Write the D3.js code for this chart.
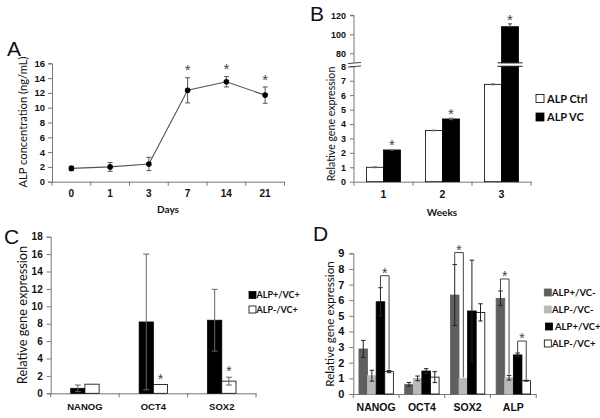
<!DOCTYPE html>
<html><head><meta charset="utf-8">
<script src="https://cdn.jsdelivr.net/npm/d3@7"></script>
<style>
body{margin:0;background:#fff;}
svg{display:block;font-family:Lato,"Open Sans",sans-serif;}
.tick text{font-weight:bold;fill:#111;}
</style></head>
<body><svg id="c" width="600" height="418"></svg>
<script>
// ---- Panel A data ----
const daysCats = ["0","1","3","7","14","21"];
const alpConc = [1.8, 2.0, 2.4, 12.35, 13.5, 11.7];
const alpConcErr = [0.3, 0.6, 0.9, 1.7, 0.7, 1.1];
const alpSig = [false,false,false,true,true,true];
const aTicks = [0,2,4,6,8,10,12,14,16];

// ---- Panel B data ----
const weekCats = ["1","2","3"];
const bSeries = ["ALP Ctrl","ALP VC"];
const alpCtrl = [1.0, 3.55, 6.75];
const alpCtrlErr = [0.03, 0.02, 0.03];
const alpVC = [2.2, 4.35, 108];
const alpVCErr = [0.02, 0.05, 3];
const bSig = [true,true,true];
const bLowTicks = [0,1,2,3,4,5,6,7,8];
const bHighTicks = [80,100,120];

// ---- Panel C data ----
const cGenes = ["NANOG","OCT4","SOX2"];
const cSeries = ["ALP+/VC+","ALP-/VC+"];
const cPos = [0.57, 8.2, 8.4];
const cPosErr = [0.38, 7.8, 3.55];
const cNeg = [1.05, 1.02, 1.4];
const cNegErr = [0, 0, 0.45];
const cSig = [false,true,true];
const cTicks = [0,2,4,6,8,10,12,14,16,18];

// ---- Panel D data ----
const dGenes = ["NANOG","OCT4","SOX2","ALP"];
const dSeries = ["ALP+/VC-","ALP-/VC-","ALP+/VC+","ALP-/VC+"];
const dVals = [
  [2.88, 0.62, 6.33, 6.12],
  [1.17, 1.0, 1.0, 1.04],
  [5.9, 1.47, 5.31, 2.5],
  [1.43, 1.08, 5.22, 0.85]
];
const dErrs = [
  [0.55, 0.12, 1.95, 0.47],
  [0.35, 0.15, 0, 0.15],
  [0.9, 0.15, 3.25, 0.12],
  [0.07, 0.35, 0.55, 0.03]
];
const dBrackets = [ // [gene index, left series, right series]
  [0,2,3],[2,0,1],[3,0,1],[3,2,3]
];
const dTicks = [0,1,2,3,4,5,6,7,8,9];

const svg = d3.select("#c");
const AX = "#777";

function styleAxis(g, fs){
  g.select(".domain").attr("stroke", AX);
  g.selectAll(".tick line").attr("stroke", AX);
  g.selectAll(".tick text").attr("font-size", fs);
}
function bandTicks(g, x, y0){
  const d = x.domain();
  const edges = d.map(c=>x(c)).concat([x(d[d.length-1])+x.bandwidth()]);
  g.selectAll("line.bt").data(edges).join("line").attr("class","bt")
    .attr("x1",e=>e).attr("x2",e=>e).attr("y1",y0).attr("y2",y0+4).attr("stroke",AX);
}
function errBar(g, cx, yTop, yBot, w, col){
  g.append("line").attr("x1",cx).attr("x2",cx).attr("y1",yTop).attr("y2",yBot).attr("stroke",col);
  g.append("line").attr("x1",cx-w/2).attr("x2",cx+w/2).attr("y1",yTop).attr("y2",yTop).attr("stroke",col);
  g.append("line").attr("x1",cx-w/2).attr("x2",cx+w/2).attr("y1",yBot).attr("y2",yBot).attr("stroke",col);
}
function star(g, cx, cy, fs){
  g.append("text").attr("x",cx).attr("y",cy+fs*0.58).attr("text-anchor","middle")
   .attr("font-family","'Liberation Sans',Arial,sans-serif")
   .attr("font-size",fs).attr("fill","#444").text("*");
}
function letter(t, x, y){
  svg.append("text").attr("x",x).attr("y",y).attr("font-size",21).attr("fill","#111")
    .attr("font-family","'Liberation Sans',Arial,sans-serif").text(t);
}

// ================= Panel A =================
{
  const g = svg.append("g");
  const x = d3.scaleBand().domain(daysCats).range([52,284.5]);
  const y = d3.scaleLinear().domain([0,16]).range([181.7,63.3]);
  const gy = g.append("g").attr("transform","translate(52,0)")
    .call(d3.axisLeft(y).tickValues(aTicks).tickSize(4).tickPadding(3));
  styleAxis(gy, 9.5);
  const gx = g.append("g").attr("transform","translate(0,181.7)")
    .call(d3.axisBottom(x).tickSize(0).tickPadding(8));
  styleAxis(gx, 10);
  bandTicks(g, x, 181.7);
  const cx = c=>x(c)+x.bandwidth()/2;
  g.append("path").datum(daysCats).attr("fill","none").attr("stroke","#555").attr("stroke-width",1.1)
    .attr("d", d3.line().x(c=>cx(c)).y((c,i)=>y(alpConc[i])));
  daysCats.forEach((c,i)=>{
    errBar(g, cx(c), y(alpConc[i]+alpConcErr[i]), y(alpConc[i]-alpConcErr[i]), 5, "#555");
  });
  g.selectAll("circle").data(daysCats).join("circle")
    .attr("cx",c=>cx(c)).attr("cy",(c,i)=>y(alpConc[i])).attr("r",2.8).attr("fill","#000");
  daysCats.forEach((c,i)=>{ if(alpSig[i]) star(g, cx(c), y(alpConc[i]+alpConcErr[i])-11, 15); });
  g.append("text").attr("transform","translate(27,122) rotate(-90)").attr("text-anchor","middle")
    .attr("font-size",11.2).attr("fill","#111").text("ALP concentration (ng/mL)");
  g.append("text").attr("x",168).attr("y",213).attr("text-anchor","middle")
    .attr("font-size",10).attr("font-weight","bold").attr("fill","#111").text("Days");
  letter("A", 7, 56);
}

// ================= Panel B =================
{
  const g = svg.append("g");
  const x = d3.scaleBand().domain(weekCats).range([354,531]);
  const yL = d3.scaleLinear().domain([0,8]).range([181.7,66.3]);
  const yH = d3.scaleLinear().domain([70,120]).range([62.8,15.3]);
  const gyl = g.append("g").attr("transform","translate(354,0)")
    .call(d3.axisLeft(yL).tickValues(bLowTicks).tickSize(4).tickPadding(4));
  styleAxis(gyl, 9);
  const gyh = g.append("g").attr("transform","translate(354,0)")
    .call(d3.axisLeft(yH).tickValues(bHighTicks).tickSize(4).tickPadding(4));
  styleAxis(gyh, 9);
  gyh.select(".domain").attr("d", `M-4,${yH(120)}H0V${yH(70)}`);
  gyl.select(".domain").attr("d", `M0,${yL(8)}V${yL(0)}`);
  const gx = g.append("g").attr("transform","translate(0,181.7)")
    .call(d3.axisBottom(x).tickSize(0).tickPadding(9));
  styleAxis(gx, 10.5);
  bandTicks(g, x, 181.7);
  // axis break marks
  [yH(70)+0.2, yL(8)+0.2].forEach(yy=>{
    g.append("line").attr("x1",348).attr("x2",361).attr("y1",yy+0.6).attr("y2",yy-0.6).attr("stroke","#444");
  });
  const bw = 17;
  const c0 = c=>x(c)+x.bandwidth()/2;
  const broken = v => v>8;
  [[alpCtrl,alpCtrlErr,"#fff",-1],[alpVC,alpVCErr,"#000",0]].forEach(([vals,errs,fill,off])=>{
    weekCats.forEach((c,i)=>{
      const bx = c0(c)+off*bw;
      const v = vals[i];
      if(!broken(v)){
        g.append("rect").attr("x",bx).attr("width",bw).attr("y",yL(v)).attr("height",yL(0)-yL(v))
          .attr("fill",fill).attr("stroke","#000").attr("stroke-width",0.8);
        errBar(g, bx+bw/2, yL(v+errs[i]), yL(v-errs[i]), 4, "#666");
      } else {
        g.append("rect").attr("x",bx).attr("width",bw).attr("y",yL(8)).attr("height",yL(0)-yL(8))
          .attr("fill",fill).attr("stroke","#000").attr("stroke-width",0.8);
        g.append("rect").attr("x",bx).attr("width",bw).attr("y",yH(v)).attr("height",yH(70)-yH(v))
          .attr("fill",fill).attr("stroke","#000").attr("stroke-width",0.8);
        errBar(g, bx+bw/2, yH(v+errs[i]), yH(v), 4, "#444");
        [yH(70), yL(8)].forEach(yy=>{
          g.append("line").attr("x1",bx-4).attr("x2",bx+bw+4).attr("y1",yy).attr("y2",yy).attr("stroke","#222");
        });
      }
    });
  });
  weekCats.forEach((c,i)=>{
    if(!bSig[i]) return;
    const v = alpVC[i];
    const top = broken(v) ? yH(v+alpVCErr[i]) : yL(v+alpVCErr[i]);
    star(g, c0(c)+bw/2, top-8, 15);
  });
  // legend
  const lg = g.append("g");
  bSeries.forEach((s,i)=>{
    const yy = 98.5 + i*18.5;
    lg.append("rect").attr("x",536).attr("y",yy-4).attr("width",8).attr("height",8)
      .attr("fill", i===0?"#fff":"#000").attr("stroke","#000").attr("stroke-width",0.8);
    lg.append("text").attr("x",547).attr("y",yy+4).attr("font-size",11).attr("font-weight","bold")
      .attr("fill","#111").text(s);
  });
  g.append("text").attr("transform","translate(335,124) rotate(-90)").attr("text-anchor","middle")
    .attr("font-size",10.6).attr("fill","#111").text("Relative gene expression");
  g.append("text").attr("x",442).attr("y",216).attr("text-anchor","middle")
    .attr("font-size",10).attr("font-weight","bold").attr("fill","#111").text("Weeks");
  letter("B", 310, 21);
}

// ================= Panel C =================
{
  const g = svg.append("g");
  const x = d3.scaleBand().domain(cGenes).range([50.7,256]);
  const y = d3.scaleLinear().domain([0,18]).range([393.3,236.7]);
  const gy = g.append("g").attr("transform","translate(50.7,0)")
    .call(d3.axisLeft(y).tickValues(cTicks).tickSize(4).tickPadding(4));
  styleAxis(gy, 10);
  const gx = g.append("g").attr("transform","translate(0,393.3)")
    .call(d3.axisBottom(x).tickSize(0).tickPadding(10));
  styleAxis(gx, 9.5);
  bandTicks(g, x, 393.3);
  const bw = 14.2;
  const c0 = c=>x(c)+x.bandwidth()/2;
  [[cPos,cPosErr,"#000",-1],[cNeg,cNegErr,"#fff",0]].forEach(([vals,errs,fill,off])=>{
    cGenes.forEach((c,i)=>{
      const bx = c0(c)+off*bw;
      g.append("rect").attr("x",bx).attr("width",bw).attr("y",y(vals[i])).attr("height",y(0)-y(vals[i]))
        .attr("fill",fill).attr("stroke","#000").attr("stroke-width",0.8);
      if(errs[i]>0) errBar(g, bx+bw/2, y(vals[i]+errs[i]), y(vals[i]-errs[i]), 6, "#666");
    });
  });
  cGenes.forEach((c,i)=>{
    if(cSig[i]) star(g, c0(c)+bw/2, y(cNeg[i]+cNegErr[i])-9, 14);
  });
  cSeries.forEach((s,i)=>{
    const yy = 295 + i*14.5;
    g.append("rect").attr("x",249).attr("y",yy-3.5).attr("width",7).attr("height",7)
      .attr("fill", i===0?"#000":"#fff").attr("stroke","#000").attr("stroke-width",0.8);
    g.append("text").attr("x",256.5).attr("y",yy+3.3).attr("font-size",9).attr("font-weight","bold")
      .attr("fill","#111").text(s);
  });
  g.append("text").attr("transform","translate(27,315) rotate(-90)").attr("text-anchor","middle")
    .attr("font-size",12.8).attr("fill","#111").text("Relative gene expression");
  letter("C", 4, 244);
}

// ================= Panel D =================
{
  const g = svg.append("g");
  const x = d3.scaleBand().domain(dGenes).range([353.3,536.2]);
  const y = d3.scaleLinear().domain([0,9]).range([394,253.3]);
  const gy = g.append("g").attr("transform","translate(353.3,0)")
    .call(d3.axisLeft(y).tickValues(dTicks).tickSize(4).tickPadding(5));
  styleAxis(gy, 11);
  const gx = g.append("g").attr("transform","translate(0,394)")
    .call(d3.axisBottom(x).tickSize(0).tickPadding(10));
  styleAxis(gx, 10.5);
  bandTicks(g, x, 394);
  const bw = 8.6;
  const fills = ["#5f5f5f","#b9b9b9","#000","#fff"];
  const bxOf = (gi, si) => x(dGenes[gi]) + x.bandwidth()/2 - 2*bw + si*bw;
  dSeries.forEach((s,si)=>{
    dGenes.forEach((c,gi)=>{
      const v = dVals[si][gi], e = dErrs[si][gi];
      const bx = bxOf(gi,si);
      g.append("rect").attr("x",bx).attr("width",bw).attr("y",y(v)).attr("height",y(0)-y(v))
        .attr("fill",fills[si]).attr("stroke", si===3?"#000":fills[si]).attr("stroke-width",0.8);
      if(e>0) errBar(g, bx+bw/2, y(v+e), y(v-e), 4.5, "#222");
    });
  });
  dBrackets.forEach(([gi,a,b])=>{
    const ta = y(dVals[a][gi]+dErrs[a][gi]);
    const tb = y(dVals[b][gi]+dErrs[b][gi]);
    const top = Math.min(ta,tb) - 12;
    const xa = bxOf(gi,a)+bw/2, xb = bxOf(gi,b)+bw/2;
    g.append("path").attr("fill","none").attr("stroke","#444").attr("stroke-width",1)
      .attr("d", `M${xa},${ta}V${top}H${xb}V${tb-1}`);
    star(g, (xa+xb)/2, top-6, 14);
  });
  dSeries.forEach((s,i)=>{
    const yy = 292.5 + i*17;
    const sx = i===2 ? 545.5 : 544.3;
    g.append("rect").attr("x",sx).attr("y",yy-3.5).attr("width",7).attr("height",7)
      .attr("fill", fills[i]).attr("stroke", i===3?"#000":fills[i]).attr("stroke-width",0.8);
    g.append("text").attr("x", i===2 ? 555 : 552).attr("y",yy+3.5).attr("font-size",9.5).attr("font-weight","bold")
      .attr("fill","#111").text(s);
  });
  g.append("text").attr("transform","translate(334,324) rotate(-90)").attr("text-anchor","middle")
    .attr("font-size",11.6).attr("fill","#111").text("Relative gene expression");
  letter("D", 313, 241);
}
</script></body></html>
